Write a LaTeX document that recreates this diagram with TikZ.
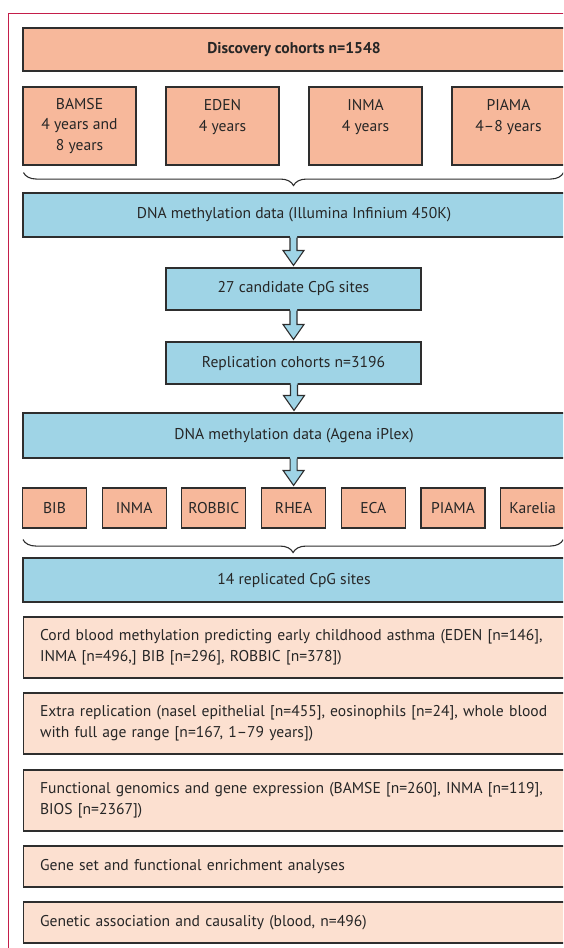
\documentclass[tikz,border=0pt]{standalone}
\usepackage{fontspec}
\setmainfont{PT Sans}
\usetikzlibrary{positioning,calc,decorations.pathreplacing}

\definecolor{cohortsalmon}{HTML}{F7B89B}
\definecolor{resultpink}{HTML}{FCE0D0}
\definecolor{stepblue}{HTML}{9FD4E6}
\definecolor{boxline}{HTML}{2E2E2E}
\definecolor{framered}{HTML}{C41E4A}
\definecolor{txtgray}{HTML}{262626}

% block arrow from the bottom of one box to the top of the next
\newcommand{\blkarrow}[2]{%
  \coordinate (tip) at ($(#2.north)+(0,-2)$);
  \coordinate (base) at (tip|-#1.south);
  \fill[stepblue] ($(base)+(-3.5,-1.5)$) -- ($(tip)+(-3.5,-15)$) -- ($(tip)+(-10.5,-15)$) -- (tip)
    -- ($(tip)+(10.5,-15)$) -- ($(tip)+(3.5,-15)$) -- ($(base)+(3.5,-1.5)$) -- cycle;
  \draw[boxline, line width=0.55pt] ($(base)+(-3.5,0)$) -- ($(tip)+(-3.5,-15)$) -- ($(tip)+(-10.5,-15)$) -- (tip)
    -- ($(tip)+(10.5,-15)$) -- ($(tip)+(3.5,-15)$) -- ($(base)+(3.5,0)$);
}

\begin{document}
\begin{tikzpicture}[x=0.5pt, y=-0.5pt, font=\fontsize{7.8pt}{10.4pt}\selectfont, text=txtgray,
    box/.style={draw=boxline, line width=0.55pt, inner sep=0pt, align=center},
    cohort/.style={box, fill=cohortsalmon},
    stepbox/.style={box, fill=stepblue},
    result/.style={box, fill=resultpink, align=left, anchor=west, text width=254.5pt,
      inner xsep=8.25pt, minimum width=271pt, minimum height=30.5pt},
    cbrace/.style={decorate, decoration={brace, amplitude=6.5pt}, draw=boxline, line width=0.55pt}]
    \useasboundingbox (0,0) rectangle (563,948);
    \clip (0,0) rectangle (563,948);

    % frame
    \draw[framered, line width=0.5pt] (570,13) -- (8,13) -- (8,960);

    % discovery
    \node[cohort, minimum width=271pt, minimum height=21.5pt] (disc) at (294,49.5) {\bfseries Discovery cohorts n=1548};
    \node[cohort, minimum width=56.5pt, minimum height=39pt] (bamse) at (79.5,126) {BAMSE\\4 years and\\8 years};
    \node[cohort, minimum width=56.5pt, minimum height=39pt] (eden) at (222.5,126) {EDEN\\4 years\\\mbox{}};
    \node[cohort, minimum width=56.5pt, minimum height=39pt] (inma1) at (365.5,126) {INMA\\4 years\\\mbox{}};
    \node[cohort, minimum width=56.5pt, minimum height=39pt] (piama1) at (508.5,126) {PIAMA\\4--8 years\\\mbox{}};
    \draw[cbrace] ($(piama1.south east)+(-2,7)$) -- ($(bamse.south west)+(1,7)$);

    \node[stepbox, minimum width=271pt, minimum height=22pt] (ill) at (294,215) {DNA methylation data (Illumina Infinium 450K)};
    \node[stepbox, minimum width=127.5pt, minimum height=21pt] (cand) at (293.5,289) {27 candidate CpG sites};
    \node[stepbox, minimum width=127.5pt, minimum height=21pt] (repl) at (293.5,363) {Replication cohorts n=3196};
    \node[stepbox, minimum width=271pt, minimum height=22.5pt] (agena) at (294,435.5) {DNA methylation data (Agena iPlex)};

    % replication cohorts
    \foreach \name/\lab [count=\i from 0] in {bib/BIB, inma2/INMA, robbic/ROBBIC, rhea/RHEA, eca/ECA, piama2/PIAMA, karelia/Karelia}
        \node[cohort, minimum width=32pt, minimum height=20pt] (\name) at ({54.5+79.7*\i},508) {\lab};
    \draw[cbrace] ($(karelia.south east)+(-2,11)$) -- ($(bib.south west)+(1,11)$);

    \node[stepbox, minimum width=271pt, minimum height=22pt] (rep14) at (294,580) {14 replicated CpG sites};

    \blkarrow{ill}{cand}
    \blkarrow{cand}{repl}
    \blkarrow{repl}{agena}
    \blkarrow{agena}{rhea}

    % follow-up analyses
    \node[result] (cord) at (23,647.5) {Cord blood methylation predicting early childhood asthma (EDEN [n=146],\\INMA [n=496,] BIB [n=296], ROBBIC [n=378])};
    \node[result] (extra) at (23,723.5) {Extra replication (nasel epithelial [n=455], eosinophils [n=24], whole blood\\with full age range [n=167, 1--79 years])};
    \node[result] (func) at (23,800.5) {Functional genomics and gene expression (BAMSE [n=260], INMA [n=119],\\BIOS [n=2367])};
    \node[result, minimum height=20.5pt] (geneset) at (23,866.5) {Gene set and functional enrichment analyses};
    \node[result, minimum height=20.5pt] (genetic) at (23,922.5) {Genetic association and causality (blood, n=496)};
\end{tikzpicture}
\end{document}
